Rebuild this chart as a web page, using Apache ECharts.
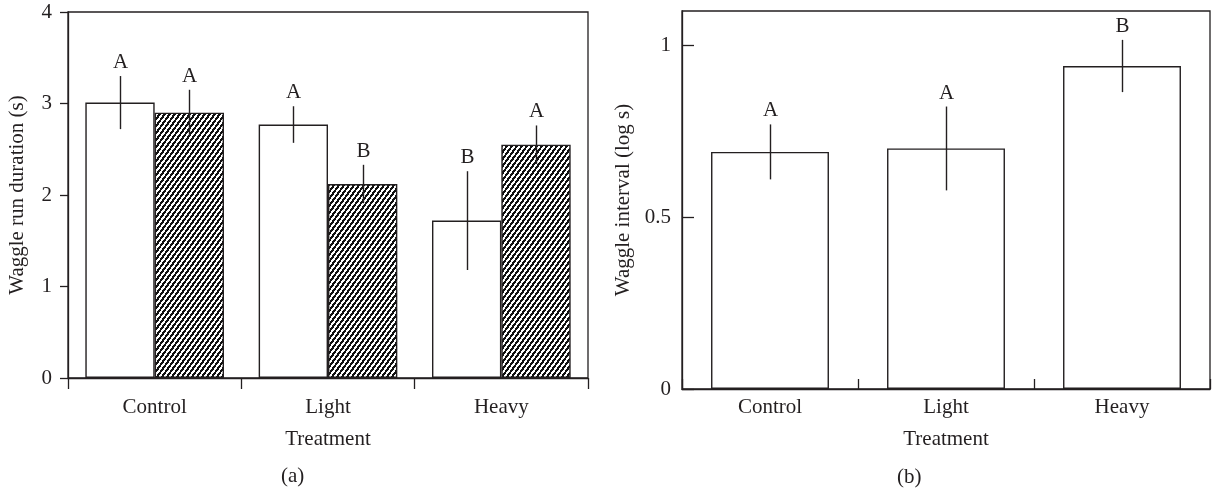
<!DOCTYPE html>
<html>
<head>
<meta charset="utf-8">
<script src="https://cdn.jsdelivr.net/npm/echarts@6/dist/echarts.min.js"></script>
<style>
  html, body { margin: 0; padding: 0; background: #fff; }
  #chart { width: 1212px; height: 492px; }
</style>
</head>
<body>
<div id="chart"></div>
<script>
// Treatment groups shared by both panels
const treatments = ['Control', 'Light', 'Heavy'];

// (a) Waggle run duration (s): open bars and hatched bars, mean ± error, significance letters
const durationOpen = [3.01, 2.77, 1.72];
const durationOpenErr = [0.29, 0.20, 0.54];
const durationOpenLetters = ['A', 'A', 'B'];
const durationHatched = [2.90, 2.12, 2.55];
const durationHatchedErr = [0.25, 0.21, 0.21];
const durationHatchedLetters = ['A', 'B', 'A'];
const durationTicks = [0, 1, 2, 3, 4];

// (b) Waggle interval (log s)
const intervalMean = [0.69, 0.70, 0.94];
const intervalErr = [0.08, 0.122, 0.076];
const intervalLetters = ['A', 'A', 'B'];
const intervalTicks = [0, 0.5, 1];
const intervalMax = 1.1;

const INK = '#231f20';
const FONT = '"Liberation Serif", "Times New Roman", serif';
const FS = 21;

// Diagonal "/" hatch fill, painted pixel by pixel so the stripes stay crisp
function hatchPattern() {
  const W = 5, H = 7, DARK = 2.5;
  const c = document.createElement('canvas');
  c.width = W; c.height = H;
  const ctx = c.getContext('2d');
  ctx.fillStyle = '#fff';
  ctx.fillRect(0, 0, W, H);
  ctx.fillStyle = '#111';
  for (let y = 0; y < H; y++) {
    for (let x = 0; x < W; x++) {
      const s = ((x + 0.5 + (y + 0.5) * W / H) % W + W) % W;
      if (s < DARK) ctx.fillRect(x, y, 1, 1);
    }
  }
  return c;
}

// Vertical error bar plus significance letter, offset within the category band
function errorSeries(axisIndex, means, errs, letters, offsetFrac) {
  return {
    type: 'custom',
    xAxisIndex: axisIndex,
    yAxisIndex: axisIndex,
    z: 10,
    silent: true,
    data: means.map((m, i) => [i, m, errs[i]]),
    renderItem(params, api) {
      const i = api.value(0), m = api.value(1), e = api.value(2);
      const band = api.size([1, 0])[0];
      const top = api.coord([i, m + e]);
      const bot = api.coord([i, m - e]);
      const x = Math.round(top[0] + offsetFrac * band) + 0.5;
      return {
        type: 'group',
        children: [
          { type: 'line', shape: { x1: x, y1: top[1], x2: x, y2: bot[1] },
            style: { stroke: INK, lineWidth: 1.4 } },
          { type: 'text', style: { text: letters[params.dataIndex], x: x, y: top[1] - 3,
              align: 'center', verticalAlign: 'bottom', font: FS + 'px ' + FONT, fill: INK } }
        ]
      };
    }
  };
}

const axisText = { color: INK, fontFamily: FONT, fontSize: FS };
const axisLine = { show: true, lineStyle: { color: INK, width: 1.3 } };

const chart = echarts.init(document.getElementById('chart'), null, { renderer: 'canvas' });

chart.setOption({
  animation: false,
  backgroundColor: '#fff',
  grid: [
    { left: 68, top: 12, width: 520, height: 366, show: true, borderColor: INK, borderWidth: 1.3,
      backgroundColor: 'transparent', containLabel: false },
    { left: 682, top: 11, width: 528, height: 378, show: true, borderColor: INK, borderWidth: 1.3,
      backgroundColor: 'transparent', containLabel: false }
  ],
  xAxis: [
    { type: 'category', gridIndex: 0, data: treatments, boundaryGap: true,
      axisLine: axisLine,
      axisTick: { show: true, length: 11, interval: 0, lineStyle: { color: INK, width: 1.3 } },
      axisLabel: Object.assign({ margin: 19, interval: 0 }, axisText),
      splitLine: { show: false },
      name: 'Treatment', nameLocation: 'middle', nameGap: 51, nameTextStyle: axisText },
    { type: 'category', gridIndex: 1, data: treatments, boundaryGap: true,
      axisLine: axisLine,
      axisTick: { show: true, inside: true, length: 10, interval: 0, lineStyle: { color: INK, width: 1.3 } },
      axisLabel: Object.assign({ margin: 8, interval: 0 }, axisText),
      splitLine: { show: false },
      name: 'Treatment', nameLocation: 'middle', nameGap: 40, nameTextStyle: axisText }
  ],
  yAxis: [
    { type: 'value', gridIndex: 0,
      min: durationTicks[0], max: durationTicks[durationTicks.length - 1], interval: durationTicks[1] - durationTicks[0],
      axisLine: axisLine,
      axisTick: { show: true, length: 8, lineStyle: { color: INK, width: 1.3 } },
      axisLabel: Object.assign({ margin: 16 }, axisText),
      splitLine: { show: false },
      name: 'Waggle run duration (s)', nameLocation: 'middle', nameGap: 40, nameTextStyle: axisText },
    { type: 'value', gridIndex: 1,
      min: intervalTicks[0], max: intervalMax, interval: intervalTicks[1] - intervalTicks[0],
      axisLine: axisLine,
      axisTick: { show: true, inside: true, length: 12, lineStyle: { color: INK, width: 1.3 } },
      axisLabel: Object.assign({ margin: 11, showMaxLabel: false,
        formatter: v => (intervalTicks.indexOf(v) >= 0 ? String(v) : '') }, axisText),
      splitLine: { show: false },
      name: 'Waggle interval (log s)', nameLocation: 'middle', nameGap: 48, nameTextStyle: axisText }
  ],
  series: [
    { type: 'bar', xAxisIndex: 0, yAxisIndex: 0, data: durationOpen,
      barCategoryGap: '20%', barGap: '0%',
      itemStyle: { color: '#fff', borderColor: INK, borderWidth: 1.4 } },
    { type: 'bar', xAxisIndex: 0, yAxisIndex: 0, data: durationHatched,
      barCategoryGap: '20%', barGap: '0%',
      itemStyle: { color: { image: hatchPattern(), repeat: 'repeat' }, borderColor: INK, borderWidth: 1.4 } },
    { type: 'bar', xAxisIndex: 1, yAxisIndex: 1, data: intervalMean,
      barCategoryGap: '33%',
      itemStyle: { color: '#fff', borderColor: INK, borderWidth: 1.4 } },
    errorSeries(0, durationOpen, durationOpenErr, durationOpenLetters, -0.2),
    errorSeries(0, durationHatched, durationHatchedErr, durationHatchedLetters, 0.2),
    errorSeries(1, intervalMean, intervalErr, intervalLetters, 0)
  ],
  graphic: [
    { type: 'text', left: 281, top: 466, style: { text: '(a)', font: FS + 'px ' + FONT, fill: INK } },
    { type: 'text', left: 897, top: 467, style: { text: '(b)', font: FS + 'px ' + FONT, fill: INK } }
  ]
});
</script>
</body>
</html>
